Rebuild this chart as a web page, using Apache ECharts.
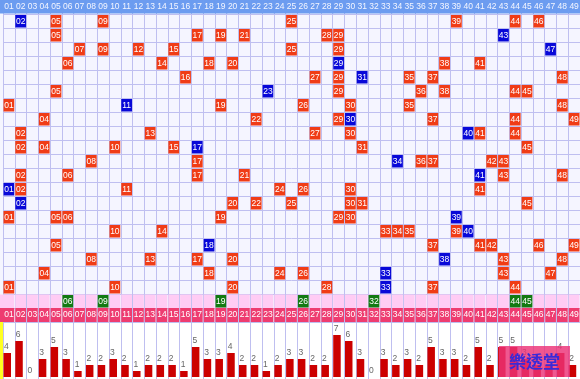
<!DOCTYPE html>
<html><head><meta charset="utf-8">
<script src="https://cdn.jsdelivr.net/npm/echarts@6/dist/echarts.min.js"></script>
<style>html,body{margin:0;padding:0;background:#fff}#c{width:580px;height:379px}</style>
</head><body><div id="c"></div>
<script>
const numbers = ['01','02','03','04','05','06','07','08','09','10','11','12','13','14','15','16','17','18','19','20','21','22','23','24','25','26','27','28','29','30','31','32','33','34','35','36','37','38','39','40','41','42','43','44','45','46','47','48','49'];
const draws = [
 [2,5,9,25,39,44,46],
 [5,17,19,21,28,29,43],
 [7,9,12,15,25,29,47],
 [6,14,18,20,29,38,41],
 [16,27,29,31,35,37,48],
 [5,23,29,36,38,44,45],
 [1,11,19,26,30,35,48],
 [4,22,29,30,37,44,49],
 [2,13,27,30,40,41,44],
 [2,4,10,15,17,31,45],
 [8,17,34,36,37,42,43],
 [2,6,17,21,41,43,48],
 [1,2,11,24,26,30,41],
 [2,20,22,25,30,31,45],
 [1,5,6,19,29,30,39],
 [10,14,33,34,35,39,40],
 [5,18,37,41,42,46,49],
 [8,13,17,20,38,43,48],
 [4,18,24,26,33,43,47],
 [1,10,20,28,33,37,44]
];
const blues = [2,43,47,29,31,23,11,30,40,17,34,41,1,2,39,40,18,38,33,33];
const latest = [6,9,19,26,32,44,45];
const counts = [4,6,0,3,5,3,1,2,2,3,2,1,2,2,2,1,5,3,3,4,2,2,1,2,3,3,2,2,7,6,3,0,3,2,3,2,5,3,3,2,5,2,5,5,3,2,2,4,2];
const watermark = '樂透堂';

const FONT = 'Liberation Sans';
const FS = 8.5;
const rowCats = ['hdr'];
draws.forEach((d,i)=>rowCats.push('r'+(i+1)));
rowCats.push('latest','nums');
const PINK_ROW = draws.length + 1, NUM_ROW = draws.length + 2;

const cellData = [];
draws.forEach((d,r)=>d.forEach(n=>cellData.push([n-1, r+1, n===blues[r]?1:0])));
latest.forEach(n=>cellData.push([n-1, PINK_ROW, 2]));
const cellColors = ['#f03c16','#0808d8','#127a12'];

function txt(x,y,t,fill,align,va){
  return {type:'text',style:{text:t,x:x,y:y,align:align||'center',verticalAlign:va||'middle',fill:fill,fontSize:FS,fontFamily:FONT}};
}

const chart = echarts.init(document.getElementById('c'));
chart.setOption({
  animation:false,
  backgroundColor:'#f5f5ff',
  grid:[
    {left:3,right:0,top:0,height:322,show:true,backgroundColor:'#f5f5ff',borderWidth:0},
    {left:3,right:0,top:322,height:57,show:true,backgroundColor:'#ffffff',borderWidth:0}
  ],
  xAxis:[
    {gridIndex:0,type:'category',data:numbers,axisLine:{show:false},axisTick:{show:false},axisLabel:{show:false},splitLine:{show:true,interval:0,lineStyle:{color:'#bfbff0',width:1}}},
    {gridIndex:1,type:'category',data:numbers,axisLine:{show:false},axisTick:{show:false},axisLabel:{show:false},splitLine:{show:true,interval:0,lineStyle:{color:'#bfbff0',width:1}}}
  ],
  yAxis:[
    {gridIndex:0,type:'category',data:rowCats,inverse:true,axisLine:{show:false},axisTick:{show:false},axisLabel:{show:false},splitLine:{show:true,interval:0,lineStyle:{color:'#bfbff0',width:1}}},
    {gridIndex:1,type:'value',min:-1/3,max:9+1/6,axisLine:{show:false},axisTick:{show:false},axisLabel:{show:false},splitLine:{show:false}}
  ],
  graphic:[
    {type:'rect',shape:{x:0,y:322,width:3,height:57},style:{fill:'#ffff22'},zlevel:1},
    {type:'group',zlevel:1,children:[
      {type:'rect',zlevel:1,shape:{x:499,y:346,width:71,height:31},style:{fill:'rgba(236,50,120,0.82)'}},
      {type:'text',zlevel:1,style:{text:watermark,x:534.5,y:362,align:'center',verticalAlign:'middle',fill:'#3a2ad8',fontSize:17,fontWeight:'bold',fontFamily:'Noto Sans CJK TC'}}
    ]}
  ],
  series:[
    {type:'custom',xAxisIndex:0,yAxisIndex:0,data:numbers.map((n,i)=>[i,0]),
     renderItem:function(p,api){
       const i=api.value(0);const c=api.coord([i,0]);const s=api.size([1,1]);
       let x0=c[0]-s[0]/2; if(i===0) x0=0;
       return {type:'group',children:[
         {type:'rect',shape:{x:x0,y:c[1]-s[1]/2,width:c[0]+s[0]/2-x0+0.6,height:s[1]-0.5},style:{fill:'#6c9cf0'}},
         txt(c[0],c[1],numbers[i],'#f4f6ff')]};
     }},
    {type:'custom',xAxisIndex:0,yAxisIndex:0,data:numbers.map((n,i)=>[i,PINK_ROW]),
     renderItem:function(p,api){
       const i=api.value(0);const c=api.coord([i,PINK_ROW]);const s=api.size([1,1]);
       let x0=c[0]-s[0]/2+0.5; if(i===0) x0=0;
       return {type:'rect',shape:{x:x0,y:c[1]-s[1]/2+0.5,width:c[0]+s[0]/2-0.5-x0,height:s[1]},style:{fill:'#ffccf4'}};
     }},
    {type:'custom',xAxisIndex:0,yAxisIndex:0,data:numbers.map((n,i)=>[i,NUM_ROW]),
     renderItem:function(p,api){
       const i=api.value(0);const c=api.coord([i,NUM_ROW]);const s=api.size([1,1]);
       let x0=c[0]-s[0]/2+0.5; if(i===0) x0=0;
       return {type:'group',children:[
         {type:'rect',shape:{x:x0,y:c[1]-s[1]/2,width:c[0]+s[0]/2-0.5-x0,height:s[1]},style:{fill:'#ee3c70'}},
         txt(c[0],c[1],numbers[i],'#ffffff')]};
     }},
    {type:'custom',xAxisIndex:0,yAxisIndex:0,data:cellData,
     renderItem:function(p,api){
       const i=api.value(0),r=api.value(1),t=api.value(2);
       const c=api.coord([i,r]);const s=api.size([1,1]);
       return {type:'group',children:[
         {type:'rect',shape:{x:c[0]-s[0]/2+0.5,y:c[1]-s[1]/2+1,width:s[0]-1,height:s[1]-1.5},style:{fill:cellColors[t]}},
         txt(c[0],c[1]+0.5,numbers[i],'#ffffff')]};
     }},
    {type:'custom',xAxisIndex:1,yAxisIndex:1,data:counts.map((v,i)=>[i,v]),
     renderItem:function(p,api){
       const i=api.value(0),v=api.value(1);
       const b=api.coord([i,0]);const t=api.coord([i,v]);const w=api.size([1,0])[0];
       const left=b[0]-w/2;
       return {type:'group',children:[
         {type:'rect',shape:{x:left+0.5,y:t[1],width:7.5,height:b[1]-t[1]},style:{fill:'#cc0000'}},
         txt(left+1,t[1]-2,String(v),'#666666','left','bottom')]};
     }}
  ]
});
</script></body></html>
